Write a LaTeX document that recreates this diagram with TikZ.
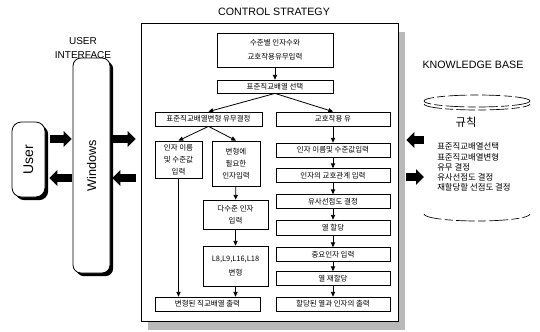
\documentclass[tikz,border=0pt]{standalone}
\usepackage{fontspec}
\setmainfont{Liberation Sans}
\newfontfamily\kr{Noto Sans CJK KR}
\usetikzlibrary{arrows.meta,calc,shadows}

\tikzset{
  box/.style={draw, line width=0.6pt, inner sep=0pt, align=center, font=\kr\fontsize{5.6}{9}\selectfont},
  flow/.style={line width=0.6pt, -{Triangle[length=3.5pt,width=3.2pt]}},
  fat/.style={line width=6pt, -{Triangle[length=6pt,width=11.5pt]}},
  rbox/.style={draw, line width=0.6pt, fill=white, inner sep=0pt, font=\fontsize{9.5}{10}\selectfont, drop shadow={shadow xshift=2.4pt, shadow yshift=-2.4pt, fill=black, opacity=1}},
  rim/.style={line width=0.5pt, dash pattern={on 14pt off 2.5pt on 6pt off 2.5pt}},
}

\begin{document}
\begin{tikzpicture}[x=0.75pt,y=0.75pt,yscale=-1,xscale=1]
\useasboundingbox (0,0) rectangle (540,332);

%Shape: Frame of the control strategy
\node[draw, fill=white, line width=0.6pt, minimum width=192.75pt, minimum height=223.5pt, drop shadow={shadow xshift=5.25pt, shadow yshift=-6.75pt, fill=gray!55, opacity=1}] (ctrl) at (269.5,172) {};
% Text Node
\node[font=\fontsize{8}{9}\selectfont] (cstitle) at (274,12) {CONTROL STRATEGY};

%Shape: Windows and User
\node[rbox, rounded corners=6pt, minimum width=27.75pt, minimum height=161.25pt] (win) at (91.5,165.5) {\rotatebox{90}{Windows}};
\node[rbox, rounded corners=7pt, minimum width=24.75pt, minimum height=56.25pt, font=\fontsize{10.5}{11}\selectfont] (user) at (28.5,159.5) {\rotatebox{90}{User}};
% Text Node
\node[align=center, font=\fontsize{7.5}{11}\selectfont] (uititle) at (83,48) {USER\\INTERFACE};

%Shape: Boxes of the control strategy
\node[box, minimum width=87pt, minimum height=25.5pt, font=\kr\fontsize{5.6}{10.5}\selectfont] (top) at (275,50) {수준별 인자수와\\교호작용유무입력};
\node[box, minimum width=87pt, minimum height=9.75pt] (sel) at (275,86.5) {표준직교배열 선택};
\node[box, minimum width=80.25pt, minimum height=10.5pt] (l0) at (208.5,119) {표준직교배열변형 유무결정};
\node[box, minimum width=35.25pt, minimum height=27.75pt] (a1) at (178.5,159.5) {인자 이름\\및 수준값\\입력};
\node[box, minimum width=36pt, minimum height=33.75pt] (a2) at (236,163.5) {변형에\\필요한\\인자입력};
\node[box, minimum width=48.75pt, minimum height=21.75pt] (a3) at (235.5,214.5) {다수준 인자\\입력};
\node[box, minimum width=48.75pt, minimum height=30pt, font=\kr\fontsize{5.6}{10}\selectfont] (a4) at (235.5,266) {L8,L9,L16,L18\\변형};
\node[box, minimum width=78.75pt, minimum height=10.5pt] (a5) at (207.5,304) {변형된 직교배열 출력};
\node[box, minimum width=85.5pt, minimum height=10.5pt] (r0) at (333,119) {교호작용 유};
\node[box, minimum width=85.5pt, minimum height=10.5pt] (r1) at (333,150) {인자 이름및 수준값입력};
\node[box, minimum width=85.5pt, minimum height=10.5pt] (r2) at (333,175.5) {인자의 교호관계 입력};
\node[box, minimum width=85.5pt, minimum height=10.5pt] (r3) at (333,201.5) {유사선점도 결정};
\node[box, minimum width=85.5pt, minimum height=11.25pt] (r4) at (333,227.5) {열 할당};
\node[box, minimum width=85.5pt, minimum height=10.5pt] (r5) at (333,254.5) {중요인자 입력};
\node[box, minimum width=85.5pt, minimum height=10.5pt] (r6) at (333,278.5) {열 재할당};
\node[box, minimum width=85.5pt, minimum height=10.5pt] (r7) at (333,304) {할당된 열과 인자의 출력};

%Straight Lines
\draw[flow] (top) -- (sel);
\draw[flow] (sel.south) -- (l0.north);
\draw[flow] (sel.south) -- (r0.north);
\draw[flow] (l0.south) -- (a1.north);
\draw[flow] (l0.south) -- (a2.north);
\draw[flow] (a2) -- (a3);
\draw[flow] (a3) -- (a4);
\draw[flow] (a1.south) -- (a1.south |- a5.north);
\draw[flow] (a4.south) -- (a4.south |- a5.north);
\foreach \i/\j in {r0/r1,r1/r2,r2/r3,r3/r4,r4/r5,r5/r6,r6/r7}
  \draw[flow] (\i) -- (\j);

%Shape: Knowledge base
\node[font=\fontsize{8}{9}\selectfont] (kbtitle) at (473,65) {KNOWLEDGE BASE};
\draw[rim] (477,101) ellipse [x radius=53, y radius=6];
\draw[rim] (424,104) arc [start angle=180, end angle=0, x radius=53, y radius=6];
\draw[rim] (424,214) arc [start angle=180, end angle=0, x radius=53, y radius=7];
% Text Node
\node[font=\kr\fontsize{8.5}{9}\selectfont] (rule) at (466,122) {규칙};
\node[anchor=west, align=left, inner sep=0pt, font=\kr\fontsize{6.3}{7.6}\selectfont] (rules) at (437,167) {표준직교배열선택\\표준직교배열변형\\유무 결정\\유사선점도 결정\\재할당할 선점도 결정};

%Block arrows
\coordinate (y1) at (0,139);
\coordinate (y2) at (0,178);
\coordinate (kb1) at (424,140);
\coordinate (kb2) at (424,177);
\draw[fat, shorten <=3.75pt, shorten >=0.75pt] (user.east |- y1) -- (win.west |- y1);
\draw[fat, shorten <=0.75pt, shorten >=3pt] (win.west |- y2) -- (user.east |- y2);
\draw[fat, shorten <=2.25pt, shorten >=3.75pt] (win.east |- y1) -- (ctrl.west |- y1);
\draw[fat, shorten <=3.75pt, shorten >=1.5pt] (ctrl.west |- y2) -- (win.east |- y2);
\draw[fat, shorten >=6pt] (kb1) -- (ctrl.east |- kb1);
\draw[fat, shorten <=6pt] (ctrl.east |- kb2) -- (kb2);

\end{tikzpicture}
\end{document}
